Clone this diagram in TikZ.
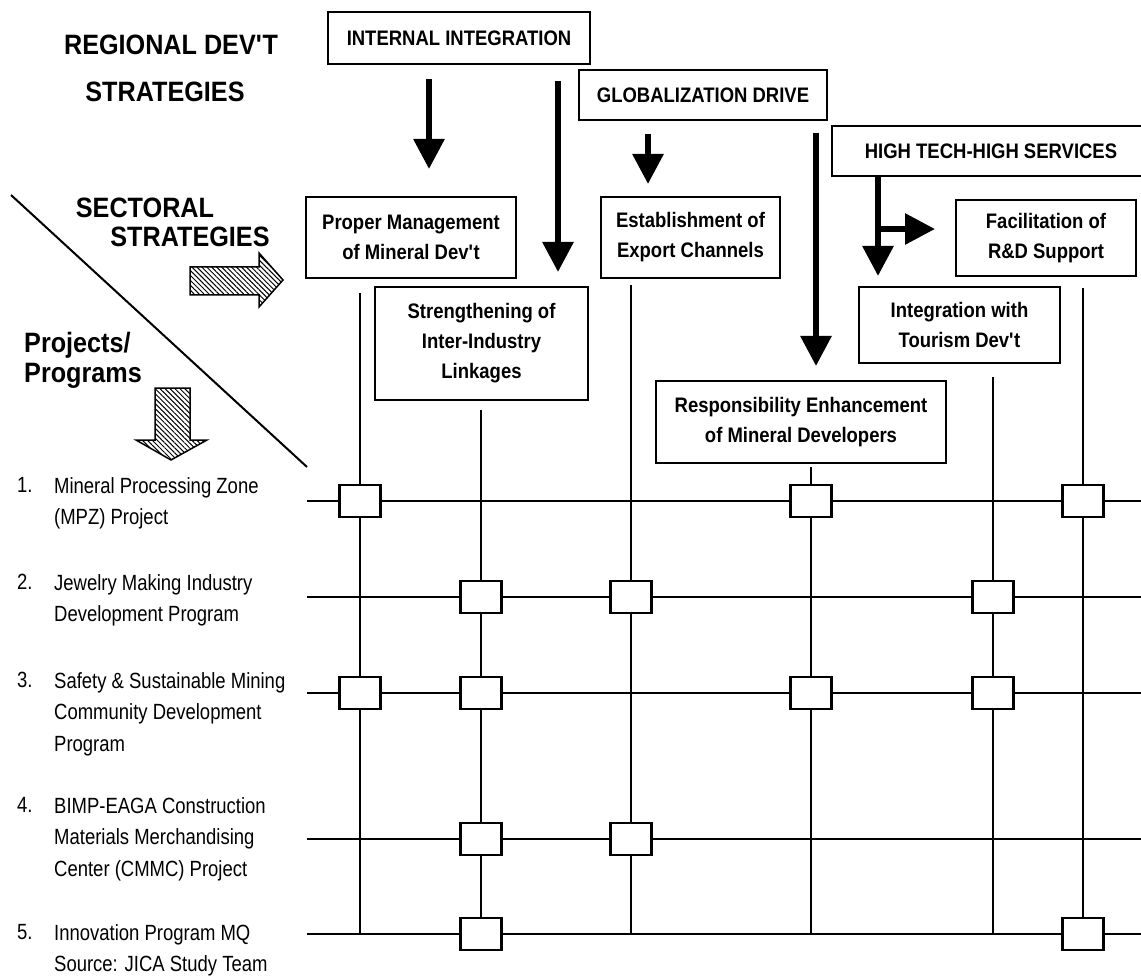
\documentclass[tikz,border=0pt]{standalone}
\usepackage{fontspec}
\setmainfont{Liberation Sans}
\newfontfamily\headfont{Liberation Sans}[FakeStretch=0.9]
\newfontfamily\boxfont{Liberation Sans}[FakeStretch=0.88]
\newfontfamily\listfont{Liberation Sans}[FakeStretch=0.84]
\usetikzlibrary{arrows.meta,patterns.meta}

\tikzset{
	heading/.style={font=\headfont\bfseries\fontsize{28}{30}\selectfont, inner sep=0pt},
	stratbox/.style={draw, line width=2pt, fill=white, align=center, inner sep=0pt,
		font=\boxfont\bfseries\fontsize{21}{30}\selectfont},
	bigarrow/.style={line width=6pt, -{Triangle[length=30pt,width=30pt]}},
	gridline/.style={line width=2pt},
	cell/.style={draw, line width=2.5pt, fill=white, minimum width=41pt, minimum height=32pt, inner sep=0pt},
	listtext/.style={font=\listfont\fontsize{22}{31.5}\selectfont, align=left, inner sep=0pt, anchor=north west},
	hatcharrow/.style={draw, line width=1.5pt, pattern={Lines[angle=-45,distance=3.5pt,line width=1pt]}},
}

\begin{document}
\begin{tikzpicture}[x=1pt,y=-1pt]
	\useasboundingbox (0,0) rectangle (1141,976);
	\clip (0,0) rectangle (1141,976);

	\begin{scope} % headings
		\node[heading] (regional) at (171,45) {REGIONAL DEV\textquotesingle T};
		\node[heading] (regstrat) at (165,92) {STRATEGIES};
		\node[heading] (sectoral) at (145,208) {SECTORAL};
		\node[heading] (secstrat) at (190,237) {STRATEGIES};
		\node[heading, align=left, anchor=west] (projects) at (24,360) {Projects/\\Programs};

		\coordinate (diagtop) at (11,195);
		\coordinate (diagbot) at (307,467);
		\draw[line width=2pt] (diagtop) -- (diagbot);

		\draw[hatcharrow] (190,267) -- (259,267) -- (259,253) -- (283,280) -- (259,307) -- (259,295) -- (190,295) -- cycle;
		\draw[hatcharrow] (155,388) -- (190,388) -- (190,440) -- (207,440) -- (171,460) -- (136,440) -- (155,440) -- cycle;
	\end{scope}

	\begin{scope} % grid
		\begin{scope}[gridline]
			\foreach \name/\y in {r1/501,r2/597,r3/693,r4/839,r5/934}
				{
					\coordinate (\name w) at (307,\y);
					\coordinate (\name e) at (1150,\y);
					\draw (\name w) -- (\name e);
				}
			\foreach \name/\x/\ytop/\ybot in {c1/360/293/934,c2/481/410/934,c3/631/285/934,c4/811/467/934,c5/993/377/934,c6/1083/288/934}
				{
					\coordinate (\name n) at (\x,\ytop);
					\coordinate (\name s) at (\x,\ybot);
					\draw (\name n) -- (\name s);
				}
		\end{scope}

		\foreach \r/\c in {1/1,1/4,1/6,2/2,2/3,2/5,3/1,3/2,3/4,3/5,4/2,4/3,5/2,5/6}
			\node[cell] (m\r\c) at (c\c n |- r\r w) {};
	\end{scope}

	\begin{scope} % strategies
		\node[stratbox, minimum width=262pt, minimum height=52pt] (intint) at (459,38) {INTERNAL INTEGRATION};
		\node[stratbox, minimum width=248pt, minimum height=50pt] (glob) at (703,95) {GLOBALIZATION DRIVE};
		\node[stratbox, minimum width=318pt, minimum height=50pt] (hitech) at (991,151) {HIGH TECH-HIGH SERVICES};

		\node[stratbox, minimum width=210pt, minimum height=81pt] (propmgmt) at (411,237.5) {Proper Management\\of Mineral Dev\textquotesingle t};
		\node[stratbox, minimum width=179pt, minimum height=81pt] (export) at (690.5,237.5) {Establishment of\\Export Channels};
		\node[stratbox, minimum width=180pt, minimum height=76pt] (facil) at (1046,238) {Facilitation of\\R\&D Support};
		\node[stratbox, minimum width=213pt, minimum height=113pt] (strength) at (481.5,343.5) {Strengthening of\\Inter-Industry\\Linkages};
		\node[stratbox, minimum width=201pt, minimum height=76pt] (tourism) at (959.5,325) {Integration with\\Tourism Dev\textquotesingle t};
		\node[stratbox, minimum width=290pt, minimum height=82pt] (respons) at (801,422) {Responsibility Enhancement\\of Mineral Developers};

		\draw[bigarrow, shorten <=14pt, shorten >=27pt] ([xshift=-30pt]intint.south) -- ([xshift=-30pt]intint.south |- propmgmt.north);
		\draw[bigarrow, shorten <=16pt, shorten >=14pt] ([xshift=99pt]intint.south) -- ([xshift=99pt]intint.south |- strength.north);
		\draw[bigarrow, shorten <=13pt, shorten >=12pt] ([xshift=-55pt]glob.south) -- ([xshift=-55pt]glob.south |- export.north);
		\draw[bigarrow, shorten <=12pt, shorten >=14pt] ([xshift=113pt]glob.south) -- ([xshift=113pt]glob.south |- respons.north);
		\draw[bigarrow, shorten >=10pt] ([xshift=-113pt]hitech.south) -- ([xshift=-113pt]hitech.south |- tourism.north);
		\coordinate (htsplit) at ([xshift=-113pt,yshift=-52pt]hitech.south);
		\draw[bigarrow, shorten >=20pt] (htsplit) -- (htsplit -| facil.west);
	\end{scope}

	\begin{scope} % projects
		\foreach \n/\y/\txt in {1/477/{Mineral Processing Zone\\(MPZ) Project},
				2/574/{Jewelry Making Industry\\Development Program},
				3/672/{Safety \& Sustainable Mining\\Community Development\\Program},
				4/797/{BIMP-EAGA Construction\\Materials Merchandising\\Center (CMMC) Project},
				5/924/{Innovation Program MQ\\Source: JICA Study Team}}
			{
				\node[listtext] (num\n) at (17,\y) {\n.};
				\node[listtext] (item\n) at (54,\y) {\txt};
			}
	\end{scope}
\end{tikzpicture}
\end{document}
